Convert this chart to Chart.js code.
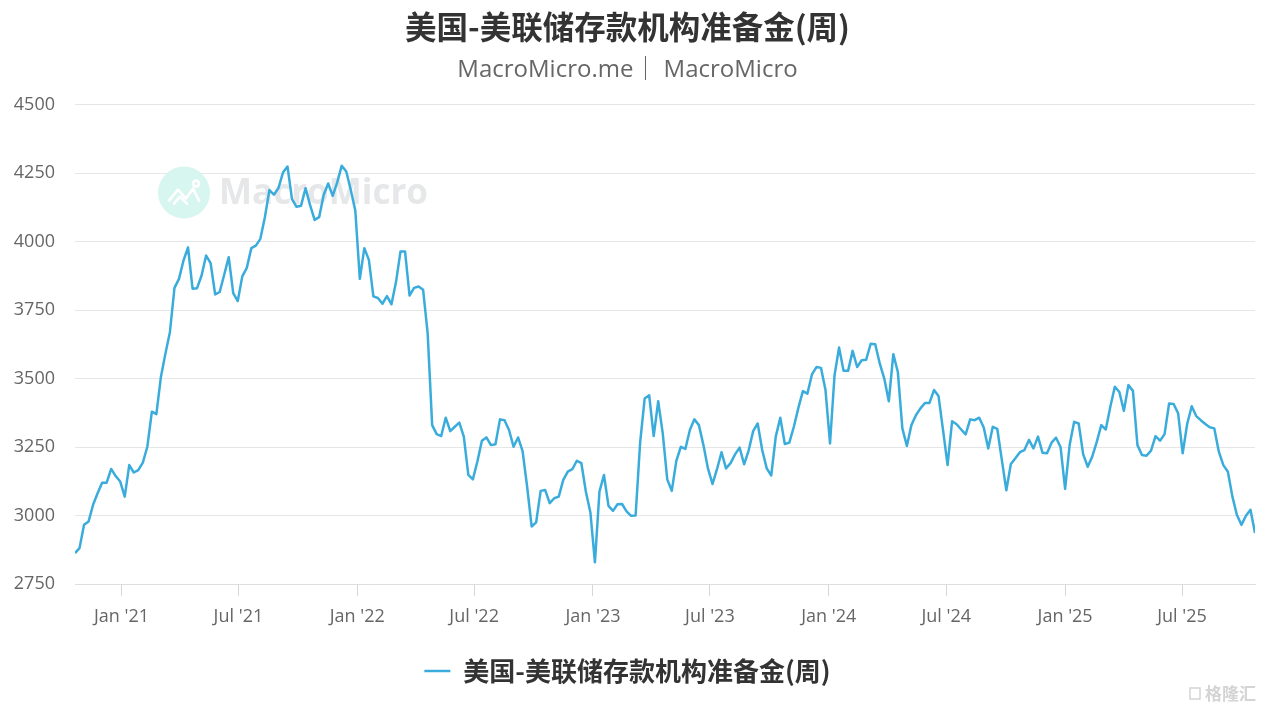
<!DOCTYPE html>
<html>
<head>
<meta charset="utf-8">
<script src="https://cdn.jsdelivr.net/npm/chart.js@4.4.1/dist/chart.umd.min.js"></script>
<style>
html,body{margin:0;padding:0;background:#fff;}
#wrap{width:1268px;height:714px;}
</style>
</head>
<body>
<div id="wrap"><canvas id="c" width="1268" height="714"></canvas></div>
<script>
// ---------- data ----------
const chartTitle = '美国-美联储存款机构准备金(周)';
const chartSubtitle = 'MacroMicro.me｜ MacroMicro';
const seriesName = '美国-美联储存款机构准备金(周)';
const firstWeek = '2020-10-21'; // weekly (Wednesday) observations
const reserves = [
  2863, 2881, 2966, 2978, 3039, 3081, 3120, 3120, 3170, 3144,
  3124, 3069, 3184, 3157, 3166, 3193, 3251, 3379, 3370, 3506,
  3591, 3670, 3831, 3864, 3931, 3979, 3828, 3830, 3876, 3949,
  3921, 3807, 3816, 3879, 3943, 3812, 3783, 3873, 3904, 3976,
  3985, 4010,
  4089, 4188, 4171, 4195, 4252, 4274, 4155, 4127, 4131, 4195,
  4133, 4079, 4089, 4170, 4212, 4167, 4216, 4277, 4256, 4188,
  4113, 3864, 3976, 3933, 3800, 3794, 3773, 3801, 3771, 3852,
  3964, 3964, 3803, 3831, 3836, 3824, 3666, 3330, 3297, 3290,
  3357, 3308, 3324, 3339,
  3288, 3148, 3132, 3197, 3273, 3285, 3257, 3260, 3351, 3348,
  3312, 3251, 3285, 3235, 3106, 2960, 2975, 3090, 3093, 3045,
  3063, 3069, 3130, 3160, 3169, 3200, 3191, 3087, 3011, 2829,
  3087, 3148, 3035, 3017, 3041, 3042, 3015, 2999, 3000, 3266,
  3427, 3439,
  3290, 3417, 3300, 3132, 3090, 3199, 3251, 3243, 3312, 3351,
  3330, 3257, 3172, 3115, 3169, 3231, 3172, 3191, 3223, 3248,
  3187, 3237, 3308, 3336, 3239, 3172, 3146, 3288, 3357, 3261,
  3266, 3324, 3393, 3454, 3445, 3515, 3542, 3539, 3458, 3263,
  3512, 3613, 3528, 3528, 3601, 3542, 3567, 3569, 3627, 3625,
  3555, 3500, 3417, 3589, 3524, 3318, 3254, 3330, 3366, 3391,
  3411, 3411, 3458, 3436, 3312, 3184, 3344, 3333, 3314, 3296,
  3351, 3348, 3357, 3321, 3245, 3324, 3316, 3203, 3092, 3188,
  3209, 3231, 3239, 3276,
  3245, 3288, 3229, 3227, 3266, 3284, 3249, 3097, 3257, 3342,
  3336, 3223, 3178, 3215, 3269, 3330, 3314, 3397, 3470, 3451,
  3382, 3476, 3455, 3257, 3221, 3218, 3237, 3290, 3273, 3297,
  3409, 3407, 3373, 3227, 3334, 3399, 3363, 3348, 3334, 3322,
  3318, 3233, 3184, 3160, 3069, 3002, 2966, 2999, 3021, 2936
];
const xTickDates = ['2021-01-01','2021-07-01','2022-01-01','2022-07-01','2023-01-01',
                    '2023-07-01','2024-01-01','2024-07-01','2025-01-01','2025-07-01'];
const xTickLabels = ["Jan '21","Jul '21","Jan '22","Jul '22","Jan '23",
                     "Jul '23","Jan '24","Jul '24","Jan '25","Jul '25"];
const yTickValues = [2750, 3000, 3250, 3500, 3750, 4000, 4250, 4500];

// ---------- build ----------
const WEEK = 7 * 86400000;
const t0 = Date.parse(firstWeek);
const points = reserves.map((v, i) => ({ x: t0 + i * WEEK, y: v }));
const tEnd = t0 + (reserves.length - 1) * WEEK;
const xTickMs = xTickDates.map(d => Date.parse(d));
const labelOf = {};
xTickMs.forEach((ms, i) => { labelOf[ms] = xTickLabels[i]; });

const LATIN = '"Open Sans", "Noto Sans", sans-serif';
const CJK = '"Noto Sans CJK SC", "Noto Sans", sans-serif';

const watermark = {
  id: 'watermark',
  beforeDatasetsDraw(chart) {
    const c = chart.ctx;
    const a = chart.chartArea;
    const cx = a.left + 109, cy = a.top + 88;
    c.save();
    c.fillStyle = '#d6f6ef';
    c.beginPath(); c.arc(cx, cy, 26, 0, Math.PI * 2); c.fill();
    c.strokeStyle = '#ffffff'; c.lineWidth = 2.6; c.lineCap = 'round'; c.lineJoin = 'round';
    c.beginPath();
    c.moveTo(cx - 15, cy + 8); c.lineTo(cx - 6, cy - 3); c.lineTo(cx + 2, cy + 6); c.lineTo(cx + 9, cy - 4); c.lineTo(cx + 15, cy + 8);
    c.stroke();
    c.beginPath();
    c.moveTo(cx - 10, cy + 11); c.lineTo(cx - 4, cy + 4); c.lineTo(cx + 3, cy + 11);
    c.stroke();
    c.beginPath(); c.arc(cx + 12, cy - 9, 3, 0, Math.PI * 2); c.stroke();
    c.fillStyle = '#e6e7e9';
    c.font = 'bold 35px ' + LATIN;
    c.textBaseline = 'middle';
    c.textAlign = 'left';
    c.fillText('MacroMicro', cx + 35, cy + 1);
    c.restore();
  },
  afterDraw(chart) {
    const c = chart.ctx;
    const W = chart.width, H = chart.height;
    c.save();
    c.strokeStyle = '#d4d4d4'; c.lineWidth = 1.5;
    c.strokeRect(W - 78, H - 26, 10, 11);
    c.fillStyle = '#d4d4d4';
    c.font = 'bold 17px ' + CJK;
    c.textBaseline = 'middle';
    c.fillText('格隆汇', W - 63, H - 20);
    c.restore();
  }
};

new Chart(document.getElementById('c'), {
  type: 'line',
  data: {
    datasets: [{
      label: seriesName,
      data: points,
      borderColor: '#3aacdc',
      backgroundColor: '#3aacdc',
      borderWidth: 2.5,
      borderJoinStyle: 'round',
      pointRadius: 0,
      tension: 0,
      fill: false
    }]
  },
  options: {
    responsive: false,
    animation: false,
    layout: { padding: { left: 0, right: 13, top: 0, bottom: 20 } },
    plugins: {
      title: {
        display: true, text: chartTitle, color: '#333',
        font: { family: CJK, size: 31.5, weight: 'bold' },
        padding: { top: 8, bottom: 0 }
      },
      subtitle: {
        display: true, text: chartSubtitle, color: '#666',
        font: { family: '"Open Sans", "Noto Sans CJK SC", sans-serif', size: 24 },
        padding: { top: 10, bottom: 20 }
      },
      legend: {
        position: 'bottom',
        labels: {
          usePointStyle: true, pointStyle: 'line', pointStyleWidth: 26,
          color: '#333', padding: 10,
          font: { family: CJK, size: 26, weight: 'bold' }
        }
      },
      tooltip: { enabled: false }
    },
    scales: {
      x: {
        type: 'linear', min: t0, max: tEnd,
        afterBuildTicks: s => { s.ticks = xTickMs.map(v => ({ value: v })); },
        afterFit: s => { s.height = 64; },
        ticks: {
          autoSkip: false, maxRotation: 0, padding: 10, color: '#666',
          font: { family: LATIN, size: 18 },
          callback: v => labelOf[v] || ''
        },
        grid: { drawOnChartArea: false, drawTicks: true, tickLength: 12, color: '#d6d6d6' },
        border: { display: true, color: '#dedede', width: 1 }
      },
      y: {
        min: 2750, max: 4500,
        afterBuildTicks: s => { s.ticks = yTickValues.map(v => ({ value: v })); },
        afterFit: s => { s.width = 75; },
        ticks: { padding: 20, color: '#666', font: { family: LATIN, size: 18 }, callback: v => String(v) },
        grid: { color: '#e6e6e6', drawTicks: false },
        border: { display: false }
      }
    }
  },
  plugins: [watermark]
});
</script>
</body>
</html>
